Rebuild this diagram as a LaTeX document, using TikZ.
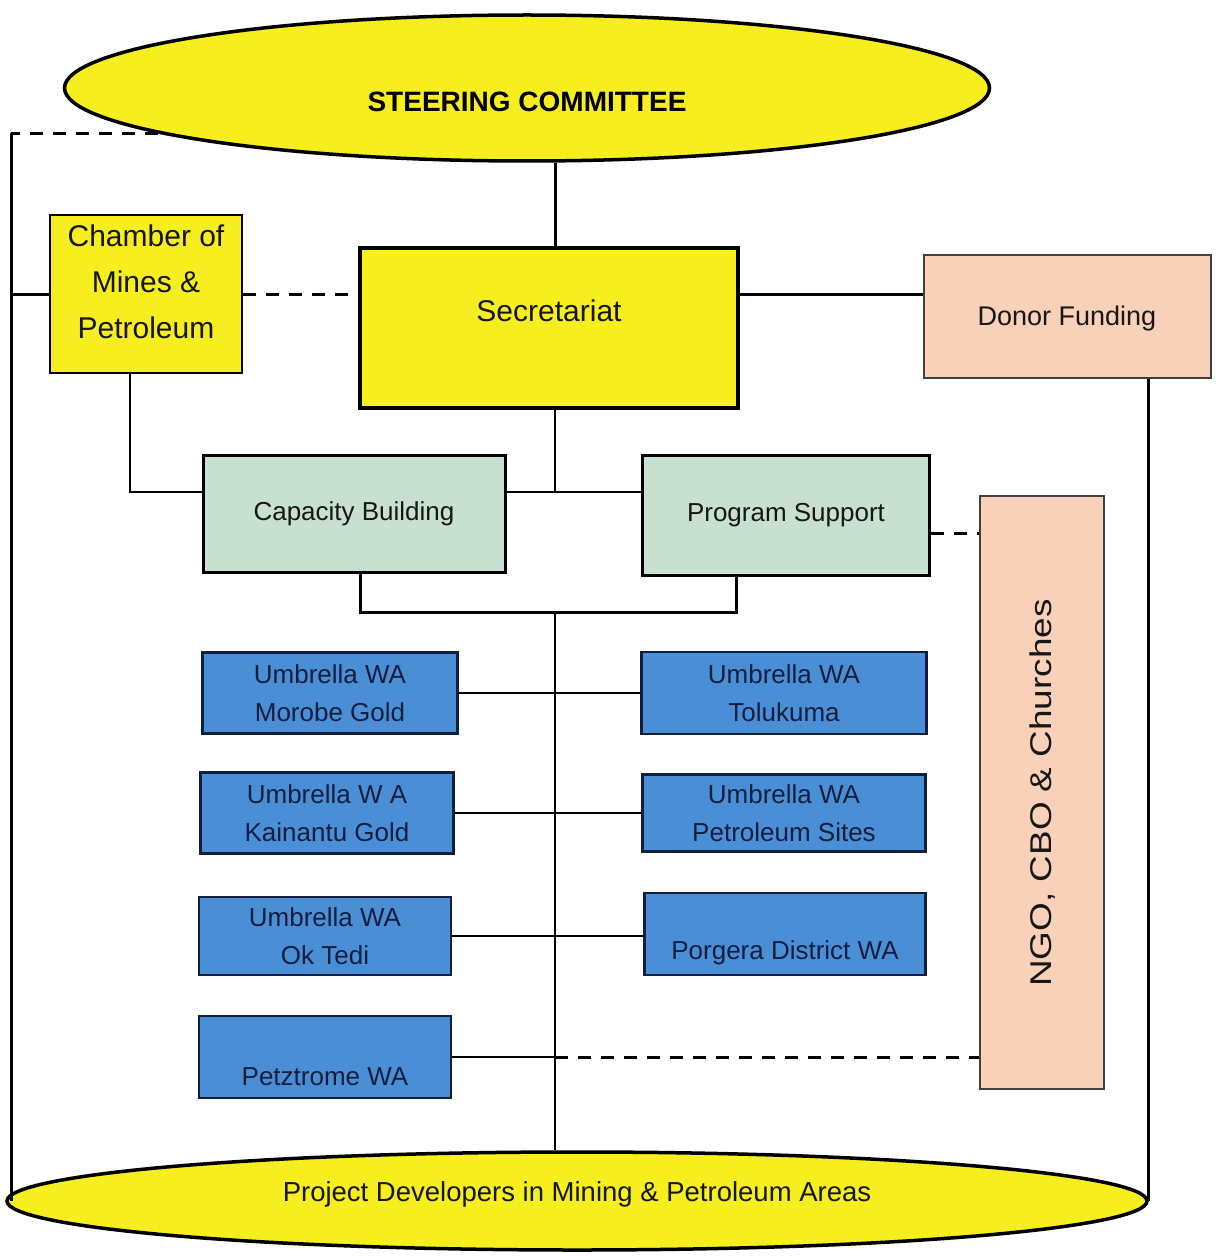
\documentclass[tikz,border=0pt]{standalone}
\usepackage{fontspec}
\setmainfont{Liberation Sans}
\usepackage{graphicx}
\usepackage{xcolor}
\usetikzlibrary{shapes.geometric,calc}

\definecolor{cyellow}{RGB}{246,238,30}
\definecolor{cpeach}{RGB}{249,208,184}
\definecolor{cgreen}{RGB}{200,224,208}
\definecolor{cblue}{RGB}{74,143,214}
\definecolor{cnavy}{RGB}{18,30,64}
\definecolor{ctext}{RGB}{22,22,22}

\begin{document}
\begin{tikzpicture}[x=1pt,y=-1pt,text=ctext,
		oval/.style={ellipse,draw=black,line width=3.5pt,fill=cyellow,inner sep=0pt},
		ybox/.style={rectangle,draw=black,line width=2.5pt,fill=cyellow,inner sep=0pt},
		pbox/.style={rectangle,draw=black!75,line width=2pt,fill=cpeach,inner sep=0pt},
		gbox/.style={rectangle,draw=black,line width=3pt,fill=cgreen,inner sep=0pt,font=\fontsize{26}{30}\selectfont},
		wabox/.style={rectangle,draw=cnavy,line width=2.5pt,fill=cblue,inner sep=0pt,align=center,text=cnavy,font=\fontsize{26}{38}\selectfont},
		watext/.style={text=cnavy,font=\fontsize{26}{30}\selectfont},
		link/.style={line width=2pt},
		outer/.style={line width=3pt},
		dashlink/.style={line width=3pt,dash pattern=on 13pt off 10pt}]
	\useasboundingbox (0,0) rectangle (1217,1257);
	
	\node[oval,minimum width=925pt,minimum height=146pt] (steer) at (527,88) {};
	\node[font=\bfseries\fontsize{28}{28}\selectfont,text=black] (steertxt) at (527,102) {STEERING COMMITTEE};
	\node[oval,minimum width=1140pt,minimum height=98pt] (devel) at (577,1201) {};
	\node[font=\fontsize{27.5}{30}\selectfont] (develtxt) at (577,1194) {Project Developers in Mining \& Petroleum Areas};
	
	\node[ybox,minimum width=192pt,minimum height=158pt] (chamber) at (146,294) {};
	\node[align=center,font=\fontsize{30}{46}\selectfont] (chambertxt) at (146,282) {Chamber of\\Mines \&\\Petroleum};
	\node[ybox,line width=3.5pt,minimum width=378pt,minimum height=160pt] (secr) at (549,328) {};
	\node[font=\fontsize{30}{34}\selectfont] (secrtxt) at (549,311) {Secretariat};
	\node[pbox,minimum width=287pt,minimum height=123pt] (donor) at (1067,316) {};
	\node[font=\fontsize{27}{30}\selectfont] (donortxt) at (1067,319) {Donor Funding};
	
	\node[gbox,minimum width=302pt,minimum height=117pt] (capb) at (354,514) {Capacity Building};
	\node[gbox,minimum width=287pt,minimum height=120pt] (progs) at (786,515) {Program Support};
	\node[pbox,minimum width=124pt,minimum height=593pt] (ngo) at (1042,792) {};
	\node[rotate=90,font=\fontsize{30}{30}\selectfont] (ngotxt) at (1043,793) {\scalebox{1.23}[1]{NGO, CBO \& Churches}};
	
	\node[wabox,minimum width=255pt,minimum height=81pt] (umorobe) at (330,693) {Umbrella WA\\Morobe Gold};
	\node[wabox,minimum width=253pt,minimum height=81pt] (ukainantu) at (327,813) {Umbrella W A\\Kainantu Gold};
	\node[wabox,minimum width=252pt,minimum height=78pt] (uoktedi) at (325,936) {Umbrella WA\\Ok Tedi};
	\node[wabox,minimum width=252pt,minimum height=82pt] (upetz) at (325,1057) {};
	\node[watext] (upetztxt) at (325,1077) {Petztrome WA};
	\node[wabox,minimum width=285pt,minimum height=82pt] (utolukuma) at (784,693) {Umbrella WA\\Tolukuma};
	\node[wabox,minimum width=283pt,minimum height=77pt] (upetsites) at (784,813) {Umbrella WA\\Petroleum Sites};
	\node[wabox,minimum width=281pt,minimum height=82pt] (uporgera) at (785,934) {};
	\node[watext] (uporgeratxt) at (785,953) {Porgera District WA};
	
	\coordinate (tl) at (11,133);
	\coordinate (junc) at (555,492);
	\coordinate (spine) at (555,612);
	
	\draw[dashlink] (steer.187) -- (steer.187 -| tl);
	\draw[outer] (steer.187 -| tl) -- (tl |- devel.west);
	\draw[outer] (tl |- chamber.west) -- (chamber.west);
	\draw[dashlink] (chamber.east) -- (chamber.east -| secr.west);
	\draw[outer] (steer.south -| junc) -- (secr.north -| junc);
	\draw[outer] (secr.east |- chamber.east) -- (donor.west |- chamber.east);
	\draw[outer] (donor.south -| devel.east) -- (devel.east);
	
	\draw[link] (secr.south -| junc) -- (junc);
	\draw[link] (capb.east |- junc) -- (progs.west |- junc);
	\draw[link] ([xshift=-16pt]chamber.south) -- ([xshift=-16pt]chamber.south |- junc) -- (capb.west |- junc);
	\draw[outer] ([xshift=6pt]capb.south) -- ([xshift=6pt]capb.south |- spine) -- ([xshift=-50pt]progs.south |- spine) -- ([xshift=-50pt]progs.south);
	\draw[dashlink] ([yshift=-18pt]progs.east) -- ([yshift=-18pt]progs.east -| ngo.west);
	\draw[link] (spine) -- (spine |- devel.north);
	
	\draw[link] (umorobe.east) -- (umorobe.east -| utolukuma.west);
	\draw[link] (ukainantu.east) -- (ukainantu.east -| upetsites.west);
	\draw[link] (uoktedi.east) -- (uoktedi.east -| uporgera.west);
	\draw[link] (upetz.east) -- (upetz.east -| spine);
	\draw[dashlink] (upetz.east -| spine) -- (upetz.east -| ngo.west);
\end{tikzpicture}
\end{document}
